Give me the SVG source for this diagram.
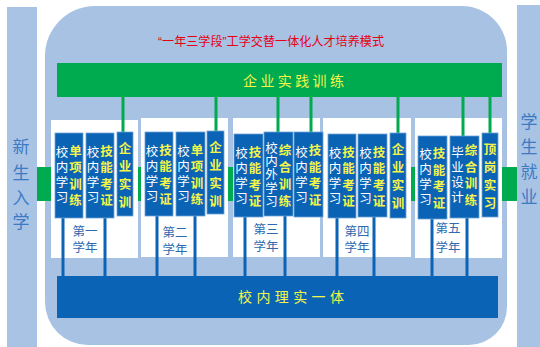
<svg xmlns="http://www.w3.org/2000/svg" width="540" height="347" viewBox="0 0 540 347">
<style>
.cjk{font-family:"Liberation Sans","Noto Sans CJK SC",sans-serif}
.side{fill:#A9C3E4}
.sidet{fill:#3C7BC4;font-size:17px;text-anchor:middle}
.panel{fill:#FFFFFF}
.yr{fill:#2E6AAE;font-size:12.5px;text-anchor:middle}
.box{fill:#0B63B5;stroke:#6FA3D8;stroke-width:0.8}
.wt{fill:#FFFFFF;font-size:12.5px;text-anchor:middle}
.yt{fill:#F3F54A;font-size:12.5px;text-anchor:middle;font-weight:bold}
.gl{stroke:#00AA4F;stroke-width:3;fill:none}
.bl{stroke:#0B63B5;stroke-width:3;fill:none}
.bart{fill:#F3F54A;font-size:14px;text-anchor:middle}
</style>
<rect width="540" height="347" fill="#FFFFFF"/>
<g id="left-side"><rect class="side" x="7" y="7" width="30" height="345"/>
<text class="cjk sidet"><tspan x="21" y="153">新</tspan><tspan x="21" y="179">生</tspan><tspan x="21" y="204">入</tspan><tspan x="21" y="228">学</tspan></text></g>
<g id="right-side"><rect class="side" x="517" y="5" width="23" height="347"/>
<text class="cjk sidet"><tspan x="529" y="128">学</tspan><tspan x="529" y="153">生</tspan><tspan x="529" y="178">就</tspan><tspan x="529" y="203">业</tspan></text></g>
<g id="frame"><path d="M45 56 A50 50 0 0 1 95 6 L462 6 A45 45 0 0 1 507 51 L507 307 A38 38 0 0 1 469 345 L88 345 A43 43 0 0 1 45 302 Z" fill="#A8C2E4"/>
<text class="cjk" x="158" y="46" font-size="12.5" fill="#E60012" textLength="226" lengthAdjust="spacingAndGlyphs">“一年三学段”工学交替一体化人才培养模式</text></g>
<g id="band"><rect x="37" y="167" width="480" height="34" fill="#00AA4F"/></g>
<g id="top-bar"><rect x="57" y="63" width="445" height="34" fill="#00AA4F"/>
<text class="cjk bart" x="250 267.4 284.8 302.2 319.6 337" y="86">企业实践训练</text></g>
<g id="bottom-bar"><rect x="57" y="276" width="441" height="42" fill="#0B63B5"/>
<text class="cjk bart" x="245 263.4 281.8 300.2 318.6 337" y="302">校内理实一体</text></g>
<g id="year1"><rect class="panel" x="51" y="120" width="87" height="138"/><text class="cjk yr"><tspan x="85" y="236">第一</tspan><tspan x="85" y="252">学年</tspan></text></g>
<g id="year2"><rect class="panel" x="141" y="118" width="87" height="139"/><text class="cjk yr"><tspan x="175" y="237">第二</tspan><tspan x="175" y="254">学年</tspan></text></g>
<g id="year3"><rect class="panel" x="233" y="118" width="87" height="139"/><text class="cjk yr"><tspan x="266" y="234">第三</tspan><tspan x="266" y="251">学年</tspan></text></g>
<g id="year4"><rect class="panel" x="323" y="118" width="88" height="139"/><text class="cjk yr"><tspan x="357" y="236">第四</tspan><tspan x="357" y="252">学年</tspan></text></g>
<g id="year5"><rect class="panel" x="415" y="118" width="87" height="140"/><text class="cjk yr"><tspan x="448" y="233">第五</tspan><tspan x="448" y="252">学年</tspan></text></g>
<g id="connectors">
<path class="gl" d="M123 97V132M216 97V131M278 97V132M311 97V132M398 97V133M463 97V136M490 97V133"/>
<path class="bl" d="M63 218V276M105 218V276M157 216V276M195 216V276M245 217V276M285 216V276M337 218V276M374 217V276M432 219V276M467 218V276"/>
</g>
<g id="p1a"><rect class="box" x="55" y="133" width="28" height="85"/>
<text class="cjk wt"><tspan x="62" y="156.5">校</tspan><tspan x="62" y="171.5">内</tspan><tspan x="62" y="186.5">学</tspan><tspan x="62" y="201.5">习</tspan></text>
<text class="cjk yt"><tspan x="75.5" y="155.5">单</tspan><tspan x="75.5" y="172">项</tspan><tspan x="75.5" y="188.5">训</tspan><tspan x="75.5" y="205">练</tspan></text></g>
<g id="p1b"><rect class="box" x="86" y="133" width="28" height="85"/>
<text class="cjk wt"><tspan x="93" y="156.5">校</tspan><tspan x="93" y="171.5">内</tspan><tspan x="93" y="186.5">学</tspan><tspan x="93" y="201.5">习</tspan></text>
<text class="cjk yt"><tspan x="106.5" y="155.5">技</tspan><tspan x="106.5" y="172">能</tspan><tspan x="106.5" y="188.5">考</tspan><tspan x="106.5" y="205">证</tspan></text></g>
<g id="p1c"><rect class="box" x="117" y="132" width="16" height="84"/>
<text class="cjk yt"><tspan x="125" y="152.5">企</tspan><tspan x="125" y="170.5">业</tspan><tspan x="125" y="188.5">实</tspan><tspan x="125" y="206.5">训</tspan></text></g>
<g id="p2a"><rect class="box" x="145" y="132" width="28" height="84"/>
<text class="cjk wt"><tspan x="152" y="155.5">校</tspan><tspan x="152" y="170.5">内</tspan><tspan x="152" y="185.5">学</tspan><tspan x="152" y="200.5">习</tspan></text>
<text class="cjk yt"><tspan x="165.5" y="154.5">技</tspan><tspan x="165.5" y="171">能</tspan><tspan x="165.5" y="187.5">考</tspan><tspan x="165.5" y="204">证</tspan></text></g>
<g id="p2b"><rect class="box" x="176" y="132" width="29" height="84"/>
<text class="cjk wt"><tspan x="183.5" y="155.5">校</tspan><tspan x="183.5" y="170.5">内</tspan><tspan x="183.5" y="185.5">学</tspan><tspan x="183.5" y="200.5">习</tspan></text>
<text class="cjk yt"><tspan x="197" y="154.5">单</tspan><tspan x="197" y="171">项</tspan><tspan x="197" y="187.5">训</tspan><tspan x="197" y="204">练</tspan></text></g>
<g id="p2c"><rect class="box" x="207" y="131" width="17" height="83"/>
<text class="cjk yt"><tspan x="215.5" y="151.5">企</tspan><tspan x="215.5" y="169.5">业</tspan><tspan x="215.5" y="187.5">实</tspan><tspan x="215.5" y="205.5">训</tspan></text></g>
<g id="p3a"><rect class="box" x="234" y="134" width="29" height="83"/>
<text class="cjk wt"><tspan x="241.5" y="157.5">校</tspan><tspan x="241.5" y="172.5">内</tspan><tspan x="241.5" y="187.5">学</tspan><tspan x="241.5" y="202.5">习</tspan></text>
<text class="cjk yt"><tspan x="255" y="156.5">技</tspan><tspan x="255" y="173">能</tspan><tspan x="255" y="189.5">考</tspan><tspan x="255" y="206">证</tspan></text></g>
<g id="p3b"><rect class="box" x="264" y="132" width="29" height="84"/>
<text class="cjk wt" font-size="11.5"><tspan x="271.5" y="153">校</tspan><tspan x="271.5" y="166.2">内</tspan><tspan x="271.5" y="179.4">外</tspan><tspan x="271.5" y="192.6">学</tspan><tspan x="271.5" y="205.8">习</tspan></text>
<text class="cjk yt"><tspan x="285" y="154.5">综</tspan><tspan x="285" y="171.5">合</tspan><tspan x="285" y="188.5">训</tspan><tspan x="285" y="205.5">练</tspan></text></g>
<g id="p3c"><rect class="box" x="294" y="132" width="29" height="85"/>
<text class="cjk wt"><tspan x="301.5" y="157">校</tspan><tspan x="301.5" y="172">内</tspan><tspan x="301.5" y="187">学</tspan><tspan x="301.5" y="202">习</tspan></text>
<text class="cjk yt"><tspan x="315" y="155">技</tspan><tspan x="315" y="171.5">能</tspan><tspan x="315" y="188">考</tspan><tspan x="315" y="204.5">证</tspan></text></g>
<g id="p4a"><rect class="box" x="328" y="134" width="28" height="84"/>
<text class="cjk wt"><tspan x="335" y="157.5">校</tspan><tspan x="335" y="172.5">内</tspan><tspan x="335" y="187.5">学</tspan><tspan x="335" y="202.5">习</tspan></text>
<text class="cjk yt"><tspan x="348.5" y="156.5">技</tspan><tspan x="348.5" y="173">能</tspan><tspan x="348.5" y="189.5">考</tspan><tspan x="348.5" y="206">证</tspan></text></g>
<g id="p4b"><rect class="box" x="358" y="134" width="29" height="83"/>
<text class="cjk wt"><tspan x="365.5" y="157.5">校</tspan><tspan x="365.5" y="172.5">内</tspan><tspan x="365.5" y="187.5">学</tspan><tspan x="365.5" y="202.5">习</tspan></text>
<text class="cjk yt"><tspan x="379" y="156.5">技</tspan><tspan x="379" y="173">能</tspan><tspan x="379" y="189.5">考</tspan><tspan x="379" y="206">证</tspan></text></g>
<g id="p4c"><rect class="box" x="390" y="133" width="16" height="85"/>
<text class="cjk yt"><tspan x="398" y="153.5">企</tspan><tspan x="398" y="171.5">业</tspan><tspan x="398" y="189.5">实</tspan><tspan x="398" y="207.5">训</tspan></text></g>
<g id="p5a"><rect class="box" x="418" y="136" width="29" height="83"/>
<text class="cjk wt"><tspan x="425.5" y="159">校</tspan><tspan x="425.5" y="174">内</tspan><tspan x="425.5" y="189">学</tspan><tspan x="425.5" y="204">习</tspan></text>
<text class="cjk yt"><tspan x="439" y="158">技</tspan><tspan x="439" y="174.5">能</tspan><tspan x="439" y="191">考</tspan><tspan x="439" y="207.5">证</tspan></text></g>
<g id="p5b"><rect class="box" x="450" y="136" width="29" height="82"/>
<text class="cjk wt"><tspan x="457.5" y="157">毕</tspan><tspan x="457.5" y="172">业</tspan><tspan x="457.5" y="187">设</tspan><tspan x="457.5" y="202">计</tspan></text>
<text class="cjk yt"><tspan x="471" y="155">综</tspan><tspan x="471" y="171.5">合</tspan><tspan x="471" y="188">训</tspan><tspan x="471" y="204.5">练</tspan></text></g>
<g id="p5c"><rect class="box" x="482" y="133" width="16" height="84"/>
<text class="cjk yt"><tspan x="490" y="153.5">顶</tspan><tspan x="490" y="171.5">岗</tspan><tspan x="490" y="189.5">实</tspan><tspan x="490" y="207.5">习</tspan></text></g>
</svg>
